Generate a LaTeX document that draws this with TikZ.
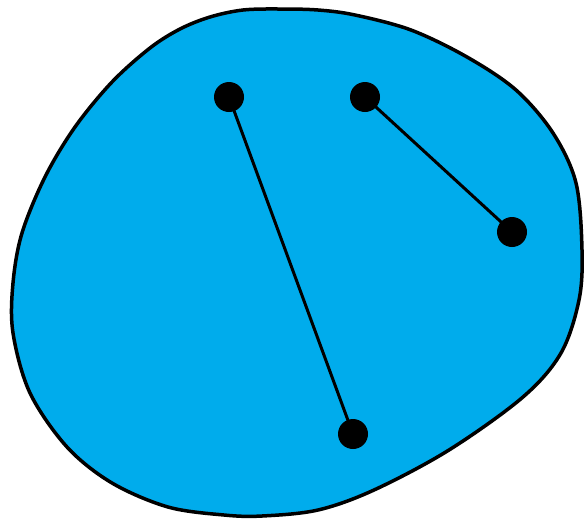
\documentclass[tikz,border=0pt]{standalone}
\definecolor{blobcyan}{RGB}{0,172,236}
\begin{document}
\begin{tikzpicture}[x=1pt,y=-1pt,
  dot/.style={circle,fill=black,inner sep=0pt,minimum size=30pt},
  seg/.style={line width=3pt,black}]
\useasboundingbox (0,0) rectangle (586,523);
\draw[line width=3.5pt,fill=blobcyan] plot[smooth cycle,tension=0.55] coordinates {
  (280,9) (243,10) (210,17) (180,29) (150,48) (112,82) (75,127) (45,177) (22,233) (13,283) (13,333)
  (30,393) (67,447) (112,483) (168,507) (224,515) (262,516) (318,510) (374,490)
  (449,450) (523,397) (561,353) (579,300) (582,250) (576,183) (553,133) (516,90)
  (467,57) (411,30) (355,15) (318,10)};
\node[dot] (a) at (229,97) {};
\node[dot] (b) at (353,434) {};
\node[dot] (c) at (365,97) {};
\node[dot] (d) at (512,232) {};
\draw[seg] (a.center) -- (b.center);
\draw[seg] (c.center) -- (d.center);
\end{tikzpicture}
\end{document}
